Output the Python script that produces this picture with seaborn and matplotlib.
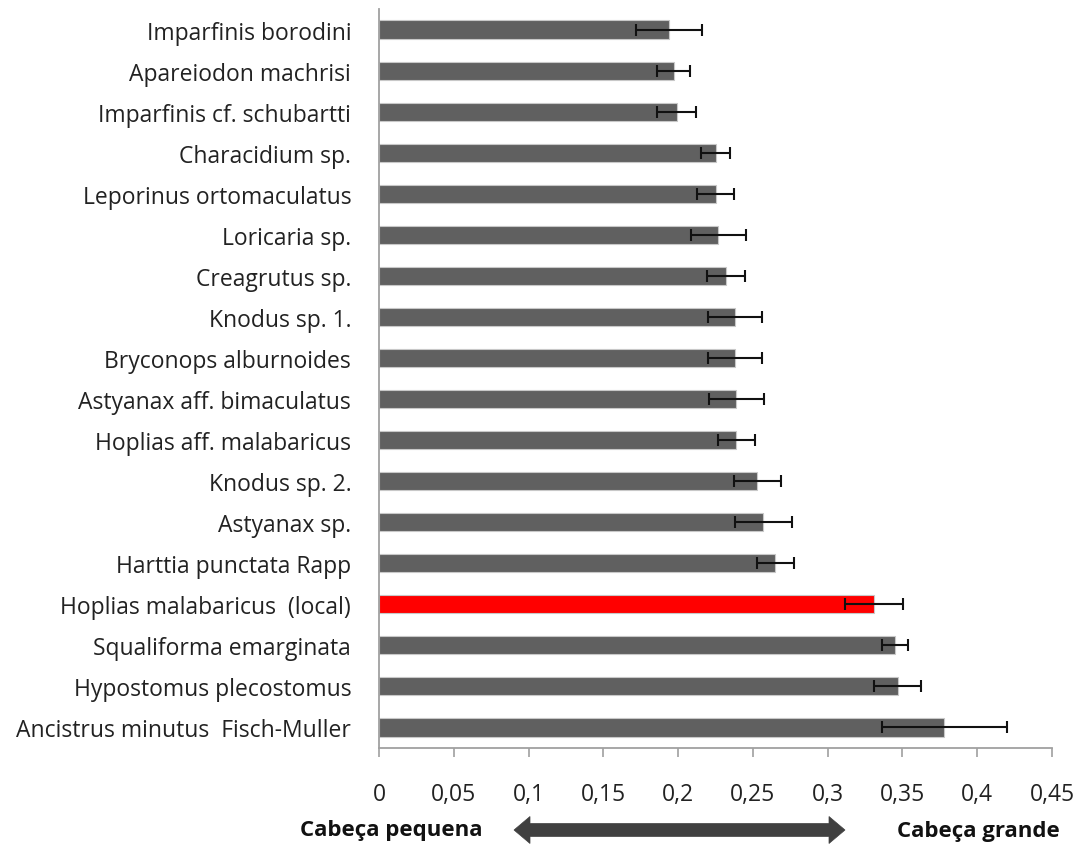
import matplotlib
matplotlib.use("Agg")
import matplotlib.pyplot as plt
from matplotlib.patches import Polygon
import seaborn as sns
import pandas as pd

# Relative head size per species (mean and standard error)
species = [
    "Imparfinis borodini",
    "Apareiodon machrisi",
    "Imparfinis cf. schubartti",
    "Characidium sp.",
    "Leporinus ortomaculatus",
    "Loricaria sp.",
    "Creagrutus sp.",
    "Knodus sp. 1.",
    "Bryconops alburnoides",
    "Astyanax aff. bimaculatus",
    "Hoplias aff. malabaricus",
    "Knodus sp. 2.",
    "Astyanax sp.",
    "Harttia punctata Rapp",
    "Hoplias malabaricus  (local)",
    "Squaliforma emarginata",
    "Hypostomus plecostomus",
    "Ancistrus minutus  Fisch-Muller",
]
head_index = [
    0.194, 0.197, 0.199, 0.225, 0.225, 0.227, 0.232, 0.238, 0.238,
    0.239, 0.239, 0.253, 0.257, 0.265, 0.331, 0.345, 0.347, 0.378,
]
std_error = [
    0.022, 0.011, 0.013, 0.0095, 0.0124, 0.0185, 0.013, 0.018, 0.018,
    0.0186, 0.0125, 0.0158, 0.0192, 0.0125, 0.0192, 0.0084, 0.0157, 0.042,
]
highlight = "Hoplias malabaricus  (local)"

x_ticks = [0, 0.05, 0.1, 0.15, 0.2, 0.25, 0.3, 0.35, 0.4, 0.45]
x_tick_labels = ["0", "0,05", "0,1", "0,15", "0,2", "0,25", "0,3", "0,35", "0,4", "0,45"]

left_caption = "Cabeça pequena"
right_caption = "Cabeça grande"

df = pd.DataFrame({"species": species, "value": head_index, "se": std_error})
palette = {s: ("#ff0000" if s == highlight else "#606060") for s in species}

sns.set_theme(style="white")
plt.rcParams["font.family"] = ["Open Sans", "DejaVu Sans"]

W, H = 1084, 845
fig = plt.figure(figsize=(W / 100, H / 100), dpi=100)
ax = fig.add_axes([379 / W, 1 - 749 / H, (1052 - 379) / W, (749 - 10) / H])

sns.barplot(
    data=df, x="value", y="species", hue="species", palette=palette,
    order=species, orient="h", errorbar=None, width=0.44, legend=False,
    edgecolor="#c8c8c8", linewidth=0.8, saturation=1, ax=ax,
)
ax.errorbar(
    df["value"], range(len(species)), xerr=df["se"], fmt="none",
    ecolor="#111111", elinewidth=1.5, capsize=4.2, capthick=1.5,
)

ax.set_xlim(0, 0.45)
ax.set_ylim(len(species) - 0.5, -0.5)
ax.set_xticks(x_ticks)
ax.set_xticklabels(x_tick_labels)
ax.set_xlabel("")
ax.set_ylabel("")

text_color = "#222222"
ax.tick_params(axis="x", which="both", bottom=True, length=6.5, width=1.2,
               color="#a0a0a0", pad=18, labelsize=16.5, labelcolor=text_color)
ax.tick_params(axis="y", which="both", left=False, length=0, pad=20,
               labelsize=16.5, labelcolor=text_color)

for side in ("top", "right"):
    ax.spines[side].set_visible(False)
for side in ("left", "bottom"):
    ax.spines[side].set_color("#a0a0a0")
    ax.spines[side].set_linewidth(1.3)
ax.grid(False)


def double_arrow(fig, x0, x1, yc, body_h, head_h, head_l, color):
    """Horizontal double-headed block arrow given in pixel units."""
    pts = [
        (x0, yc), (x0 + head_l, yc - head_h / 2), (x0 + head_l, yc - body_h / 2),
        (x1 - head_l, yc - body_h / 2), (x1 - head_l, yc - head_h / 2), (x1, yc),
        (x1 - head_l, yc + head_h / 2), (x1 - head_l, yc + body_h / 2),
        (x0 + head_l, yc + body_h / 2), (x0 + head_l, yc + head_h / 2),
    ]
    pts = [(px / W, 1 - py / H) for px, py in pts]
    fig.patches.append(Polygon(pts, closed=True, transform=fig.transFigure,
                               facecolor=color, edgecolor=color, linewidth=0.5))


double_arrow(fig, 514, 845, 831, 13, 27, 16, "#404040")

fig.text(300 / W, 1 - 831 / H, left_caption, ha="left", va="center",
         fontsize=16, fontweight="bold", color="#111111")
fig.text(1060 / W, 1 - 832 / H, right_caption, ha="right", va="center",
         fontsize=16, fontweight="bold", color="#111111")

fig.savefig("out.png", dpi=100, facecolor="white")
